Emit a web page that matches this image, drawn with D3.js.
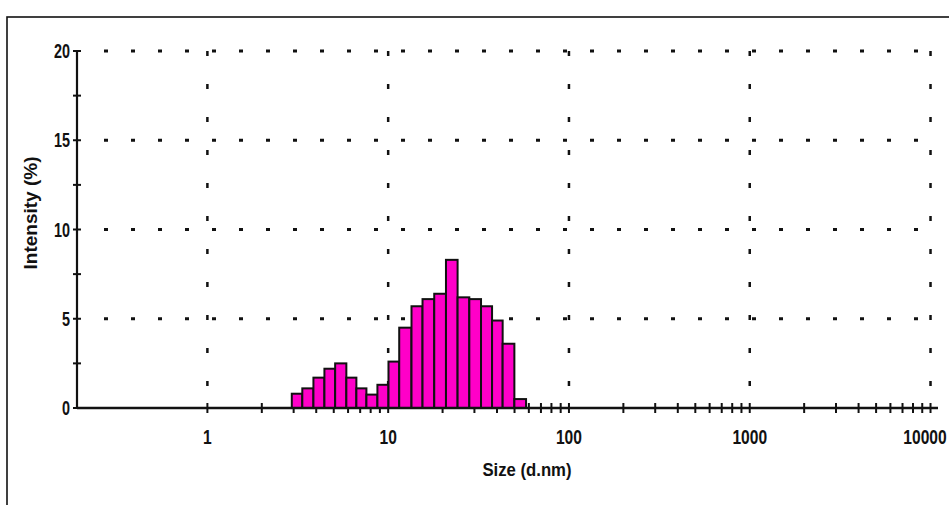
<!DOCTYPE html>
<html><head><meta charset="utf-8">
<script src="https://cdn.jsdelivr.net/npm/d3@7"></script>
<style>
html,body{margin:0;padding:0;background:#fff;}
svg{display:block;}
text{font-family:"Liberation Sans",Arial,sans-serif;font-weight:bold;fill:#111;}
</style></head><body>
<svg id="c" width="949" height="505"></svg>
<script>
// Size bin edges (nm)
const binEdges = [2.93, 3.35, 3.86, 4.44, 5.09, 5.87, 6.67, 7.58, 8.72, 10.04, 11.51, 13.46, 15.49, 17.98, 20.88, 24.21, 28.11, 32.63, 37.55, 42.98, 49.9, 57.9];
// Intensity (%) per bin
const intensity = [0.8, 1.1, 1.7, 2.2, 2.5, 1.7, 1.1, 0.75, 1.3, 2.6, 4.5, 5.7, 6.1, 6.4, 8.3, 6.2, 6.1, 5.7, 4.9, 3.6, 0.5];
const xTickLabels = [1, 10, 100, 1000, 10000];
const yTickLabels = [0, 5, 10, 15, 20];
const yMinorTicks = [0, 2.5, 5, 7.5, 10, 12.5, 15, 17.5, 20];
const xDomain = [0.19, 11000];
const yDomain = [0, 20];

const svg = d3.select("#c");
const x = d3.scaleLog().domain(xDomain).range([77, 938]);
const y = d3.scaleLinear().domain(yDomain).range([408, 51]);

// outer frame
svg.append("rect").attr("x", 7).attr("y", 17).attr("width", 980).attr("height", 520)
  .attr("fill", "none").attr("stroke", "#111").attr("stroke-width", 1.6);

// horizontal dotted grid
svg.append("g").selectAll("line").data(yTickLabels.filter(d => d > 0)).join("line")
  .attr("x1", x(0.19) + 27).attr("x2", x(10000) + 2)
  .attr("y1", d => y(d)).attr("y2", d => y(d))
  .attr("stroke", "#111").attr("stroke-width", 3).attr("stroke-dasharray", "4,23");
// vertical dotted grid
svg.append("g").selectAll("line").data(xTickLabels).join("line")
  .attr("x1", d => x(d)).attr("x2", d => x(d))
  .attr("y1", y(20)).attr("y2", y(0) - 4)
  .attr("stroke", "#111").attr("stroke-width", 2.5).attr("stroke-dasharray", "5,28");

// x axis minor/major ticks (crossing)
const xTicks = x.ticks().filter(d => d >= 1 && d <= 10000);
svg.append("g").selectAll("line").data(xTicks).join("line")
  .attr("x1", d => x(d)).attr("x2", d => x(d))
  .attr("y1", y(0) - 5).attr("y2", y(0) + 5)
  .attr("stroke", "#111").attr("stroke-width", 2);

// bars
const bars = intensity.map((v, i) => ({x0: binEdges[i], x1: binEdges[i + 1], v}));
svg.append("g").selectAll("rect").data(bars).join("rect")
  .attr("x", d => x(d.x0)).attr("width", d => x(d.x1) - x(d.x0))
  .attr("y", d => y(d.v)).attr("height", d => y(0) - y(d.v))
  .attr("fill", "#ff00c8").attr("stroke", "#111").attr("stroke-width", 2);

// axes lines
svg.append("line").attr("x1", x(0.19)).attr("x2", x(11000)).attr("y1", y(0)).attr("y2", y(0))
  .attr("stroke", "#111").attr("stroke-width", 2.6);
svg.append("line").attr("x1", x(0.19)).attr("x2", x(0.19)).attr("y1", y(20)).attr("y2", y(0))
  .attr("stroke", "#111").attr("stroke-width", 2.2);

// y ticks
svg.append("g").selectAll("line").data(yMinorTicks).join("line")
  .attr("x1", x(0.19) - 4).attr("x2", x(0.19) + 4)
  .attr("y1", d => y(d)).attr("y2", d => y(d))
  .attr("stroke", "#111").attr("stroke-width", 2);

// y labels (condensed)
svg.append("g").selectAll("text").data(yTickLabels).join("text")
  .attr("transform", d => `translate(70,${y(d) + 7}) scale(0.72,1)`)
  .attr("text-anchor", "end").attr("font-size", 20).text(d => d);
// x labels (condensed)
svg.append("g").selectAll("text").data(xTickLabels).join("text")
  .attr("transform", d => `translate(${Math.min(x(d), 925)},${444}) scale(0.78,1)`)
  .attr("text-anchor", "middle").attr("font-size", 20).text(d => d);

// titles
svg.append("text").attr("transform", "translate(527,476) scale(0.88,1)").attr("text-anchor", "middle")
  .attr("font-size", 19).text("Size (d.nm)");
svg.append("text").attr("transform", "translate(37,213) rotate(-90)").attr("text-anchor", "middle")
  .attr("font-size", 19).text("Intensity (%)");
</script>
</body></html>
